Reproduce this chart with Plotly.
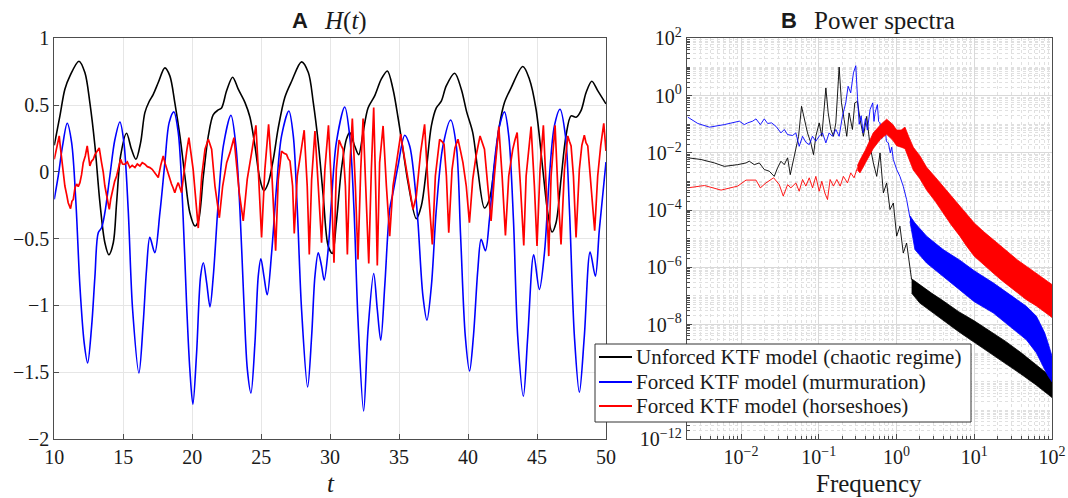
import numpy as np
import plotly.graph_objects as go

# ---------------- Panel A: H(t) time series ----------------
t_black = [10.0, 10.41, 10.77, 11.14, 11.79, 12.22, 12.58, 12.95, 13.31, 13.67,
           13.96, 14.28, 14.52, 14.81, 15.24, 15.6, 15.92, 16.26, 16.57, 16.89,
           17.17, 17.54, 18.02, 18.38, 18.74, 19.11, 19.47, 19.83, 20.2, 20.44,
           20.81, 21.17, 21.53, 21.89, 22.13, 22.5, 22.93, 23.34, 23.83, 24.19,
           24.55, 24.91, 25.2, 25.52, 25.88, 26.24, 26.72, 27.21, 27.93, 28.42,
           28.78, 29.14, 29.5, 29.86, 30.16, 30.45, 30.82, 31.18, 31.42, 31.78,
           32.07, 32.39, 32.75, 33.23, 33.71, 34.15, 34.56, 34.92, 35.28, 35.65,
           36.25, 36.61, 36.98, 37.34, 37.7, 38.06, 38.42, 39.03, 39.51, 39.9,
           40.34, 40.7, 41.19, 41.55, 41.91, 42.27, 42.64, 43.12, 43.97, 44.45,
           44.93, 45.42, 45.78, 46.09, 46.38, 46.74, 47.1, 47.47, 47.83, 48.19,
           48.56, 48.97, 49.4, 50.0]
h_black = [0.20, 0.42, 0.62, 0.72, 0.83, 0.745, 0.52, 0.195, -0.23, -0.53,
           -0.62, -0.53, -0.23, 0.12, 0.29, 0.17, 0.095, 0.22, 0.445, 0.53,
           0.58, 0.67, 0.78, 0.72, 0.52, 0.27, -0.03, -0.305, -0.405, -0.37,
           -0.03, 0.27, 0.43, 0.465, 0.48, 0.61, 0.71, 0.62, 0.52, 0.41,
           0.195, -0.055, -0.14, -0.08, 0.095, 0.33, 0.56, 0.68, 0.825, 0.745,
           0.52, 0.22, -0.18, -0.555, -0.61, -0.38, 0.02, 0.245, 0.295, 0.195,
           0.13, 0.295, 0.48, 0.57, 0.695, 0.757, 0.62, 0.41, 0.17, -0.08,
           -0.35, -0.255, 0.02, 0.345, 0.48, 0.53, 0.645, 0.74, 0.62, 0.45,
           0.295, 0.02, -0.27, -0.205, 0.045, 0.345, 0.52, 0.63, 0.79, 0.695,
           0.47, 0.02, -0.305, -0.45, -0.38, -0.055, 0.27, 0.42, 0.41, 0.46,
           0.595, 0.68, 0.61, 0.51]

t_blue = [10.0, 10.29, 10.6, 10.94, 11.26, 11.57, 11.86, 12.17, 12.42, 12.71,
          12.95, 13.19, 13.43, 13.67, 14.03, 14.4, 14.76, 15.05, 15.36, 15.68,
          16.14, 16.45, 16.69, 16.93, 17.29, 17.66, 18.02, 18.33, 18.67, 18.99,
          19.3, 19.59, 19.83, 20.05, 20.32, 20.61, 20.81, 21.05, 21.29, 21.53,
          21.89, 22.26, 22.81, 23.17, 23.46, 23.75, 24.0, 24.26, 24.55, 24.79,
          24.98, 25.2, 25.44, 25.76, 26.12, 26.48, 27.01, 27.33, 27.62, 27.93,
          28.37, 28.66, 28.9, 29.14, 29.38, 29.57, 29.86, 30.09, 30.45, 31.06,
          31.42, 31.73, 32.02, 32.43, 32.75, 33.16, 33.42, 33.67, 33.96, 34.32,
          34.56, 34.92, 35.41, 35.77, 36.08, 36.37, 36.73, 37.02, 37.34, 37.7,
          38.18, 38.74, 39.15, 39.46, 39.8, 40.11, 40.39, 40.71, 40.95, 41.26,
          41.55, 41.91, 42.28, 42.64, 42.95, 43.29, 43.6, 44.01, 44.33, 44.76,
          45.17, 45.54, 45.9, 46.26, 46.67, 47.06, 47.35, 47.71, 48.07, 48.43,
          48.85, 49.23, 49.52, 50.0]
h_blue = [-0.205, -0.03, 0.195, 0.365, 0.22, -0.23, -0.855, -1.28, -1.43, -1.155,
          -0.78, -0.455, -0.418, -0.305, -0.03, 0.245, 0.375, 0.22, -0.28, -1.03,
          -1.505, -1.13, -0.73, -0.49, -0.605, -0.305, 0.07, 0.37, 0.45, 0.295,
          -0.23, -0.98, -1.48, -1.74, -1.355, -0.78, -0.68, -0.83, -1.01, -0.78,
          -0.23, 0.195, 0.425, 0.195, -0.28, -0.98, -1.48, -1.655, -1.28, -0.78,
          -0.65, -0.78, -0.92, -0.605, -0.105, 0.27, 0.457, 0.27, -0.28, -1.03,
          -1.61, -1.23, -0.78, -0.605, -0.705, -0.81, -0.58, -0.23, 0.22, 0.487,
          0.27, -0.28, -1.105, -1.79, -1.18, -0.76, -1.03, -1.26, -0.855, -0.28,
          -0.155, 0.045, 0.275, 0.195, -0.03, -0.38, -0.93, -1.11, -0.855, -0.28,
          0.195, 0.39, 0.195, -0.48, -1.23, -1.49, -1.23, -0.73, -0.505, -0.59,
          -0.355, 0.07, 0.345, 0.45, 0.27, -0.355, -1.23, -1.68, -1.23, -0.62,
          -0.88, -0.605, -0.03, 0.345, 0.47, 0.27, -0.28, -1.23, -1.65, -1.23,
          -0.6, -0.78, -0.43, 0.075]

t_red = [10.0, 10.12, 10.22, 10.36, 10.45, 10.53, 10.65, 10.77, 10.9, 11.01,
         11.18, 11.28, 11.38, 11.5, 11.62, 11.74, 11.86, 11.98, 12.1, 12.25,
         12.39, 12.5, 12.58, 12.7, 12.83, 12.95, 13.1, 13.26, 13.43, 13.55,
         13.67, 13.85, 13.99, 14.1, 14.23, 14.38, 14.52, 14.66, 14.81, 14.95,
         15.12, 15.3, 15.48, 15.65, 15.85, 16.02, 16.21, 16.38, 16.57, 16.75,
         16.93, 17.1, 17.29, 17.42, 17.54, 17.72, 17.9, 18.05, 18.19, 18.35,
         18.5, 18.62, 18.74, 18.87, 18.99, 19.12, 19.23, 19.35, 19.47, 19.62,
         19.76, 20.07, 20.44, 20.69, 20.93, 21.17, 21.41, 21.65, 21.97, 22.21,
         22.5, 22.74, 23.03, 23.22, 23.41, 23.7, 23.99, 24.31, 24.62, 24.79,
         25.03, 25.27, 25.54, 25.76, 26.05, 26.24, 26.48, 26.66, 26.84, 26.96,
         27.09, 27.28, 27.4, 27.62, 28.12, 28.34, 28.49, 28.66, 28.9, 29.14,
         29.38, 29.62, 29.88, 30.09, 30.28, 30.45, 30.65, 30.8, 30.94, 31.11,
         31.25, 31.42, 31.61, 31.83, 32.02, 32.22, 32.39, 32.58, 32.8, 32.99,
         33.16, 33.3, 33.42, 33.59, 33.84, 34.08, 34.32, 34.56, 34.8, 35.12,
         35.24, 35.36, 35.5, 35.65, 35.82, 36.01, 36.25, 36.56, 36.85, 37.1,
         37.41, 37.63, 37.94, 38.1, 38.26, 38.43, 38.6, 38.84, 39.05, 39.27,
         39.45, 39.63, 39.87, 40.1, 40.34, 40.58, 40.87, 41.03, 41.19, 41.43,
         41.67, 41.91, 42.23, 42.47, 42.71, 42.95, 43.24, 43.4, 43.56, 43.8,
         44.04, 44.21, 44.57, 44.81, 45.0, 45.22, 45.46, 45.66, 45.85, 46.02,
         46.31, 46.5, 46.74, 46.99, 47.23, 47.35, 47.47, 47.64, 47.83, 48.07,
         48.25, 48.43, 48.55, 48.68, 48.92, 49.18, 49.4, 49.62, 49.84, 50.0]
h_red = [0.095, 0.16, 0.195, 0.27, 0.18, 0.095, 0.02, -0.105, -0.17, -0.23,
         -0.275, -0.22, -0.205, -0.12, -0.09, -0.11, -0.08, -0.02, 0.07, 0.12,
         0.195, 0.1, 0.045, 0.08, 0.095, 0.13, 0.15, 0.18, 0.07, 0.0,
         -0.105, -0.2, -0.28, -0.2, -0.13, -0.07, -0.03, 0.03, 0.095, 0.06,
         0.058, 0.075, 0.033, 0.05, 0.033, 0.06, 0.045, 0.07, 0.058, 0.04,
         0.033, 0.02, -0.005, -0.02, -0.042, 0.05, 0.12, 0.06, 0.008, -0.04,
         -0.09, -0.12, -0.155, -0.11, -0.08, -0.12, -0.155, -0.05, 0.07, 0.17,
         0.257, 0.02, -0.42, -0.03, 0.17, 0.245, 0.17, -0.105, -0.343, -0.105,
         0.07, 0.145, 0.257, 0.07, -0.155, -0.367, -0.055, 0.145, 0.35, 0.02,
         -0.49, 0.02, 0.357, 0.02, -0.59, -0.055, 0.157, 0.14, 0.132, 0.1,
         0.082, -0.105, -0.46, -0.03, 0.313, -0.105, -0.617, -0.055, 0.307, -0.105,
         -0.53, 0.02, 0.35, -0.105, -0.68, 0.02, 0.24, 0.2, 0.17, -0.105,
         -0.617, 0.02, 0.4, -0.105, -0.655, 0.02, 0.4, -0.105, -0.685, 0.02,
         0.482, -0.105, -0.7, 0.07, 0.345, -0.105, -0.48, -0.105, 0.07, 0.283,
         0.2, 0.12, 0.04, -0.055, -0.17, -0.28, -0.18, 0.145, 0.357, -0.105,
         -0.542, -0.03, 0.245, 0.23, 0.207, -0.03, -0.455, 0.02, 0.18, 0.245,
         0.16, 0.07, -0.105, -0.38, -0.055, 0.12, 0.27, 0.22, 0.17, -0.105,
         -0.367, -0.03, 0.34, -0.03, -0.475, -0.03, 0.17, 0.24, 0.295, -0.105,
         -0.55, -0.03, 0.34, -0.105, -0.555, 0.02, 0.35, -0.105, -0.63, -0.03,
         0.35, -0.105, -0.542, 0.02, 0.27, 0.23, 0.195, -0.03, -0.49, 0.02,
         0.2, 0.275, 0.22, 0.195, -0.105, -0.44, -0.03, 0.2, 0.365, 0.157]

# ---------------- Panel B: power spectra (log10 values) ----------------
# Unforced KTF model: low-frequency part and the broadband tail (upper / lower envelope)
black_logf = [-2.685, -2.514, -2.343, -2.215, -2.043, -1.936, -1.894, -1.830, -1.765, -1.701,
              -1.637, -1.573, -1.530, -1.487, -1.444, -1.401, -1.367, -1.325, -1.295, -1.260,
              -1.222, -1.188, -1.145, -1.102, -1.068, -1.038, -0.995, -0.961, -0.931, -0.909,
              -0.879, -0.845, -0.811, -0.781, -0.738, -0.708, -0.674, -0.640, -0.610, -0.567,
              -0.537, -0.503, -0.469, -0.426, -0.383, -0.340, -0.298, -0.255, -0.212, -0.169,
              -0.127, -0.084, -0.041, 0.002, 0.044, 0.087, 0.130, 0.173, 0.194]
black_logp = [-2.17, -2.23, -2.35, -2.47, -2.41, -2.35, -2.29, -2.41, -2.35, -2.58,
              -2.64, -2.82, -2.52, -2.29, -2.41, -2.17, -2.76, -2.23, -1.88, -1.42,
              -0.37, -0.83, -1.30, -1.65, -2.06, -1.42, -0.95, -1.42, -0.37, 0.27,
              -0.60, -1.18, -1.42, -0.95, 1.00, -0.25, -0.83, -1.42, -0.60, -1.18,
              -0.25, -0.20, -0.83, -1.42, -0.72, -1.77, -2.35, -2.82, -2.00, -3.40,
              -3.05, -3.98, -3.75, -4.91, -4.56, -5.50, -5.15, -5.96, -6.43]
black_tail_logf = [0.194, 0.300, 0.450, 0.600, 0.800, 1.000, 1.200, 1.400, 1.600, 1.800, 2.000]
black_tail_hi = [-6.40, -6.62, -6.90, -7.17, -7.55, -7.87, -8.22, -8.58, -8.98, -9.40, -9.85]
black_tail_lo = [-6.90, -7.25, -7.55, -7.85, -8.25, -8.62, -8.98, -9.35, -9.73, -10.12, -10.55]

# Forced KTF model (murmuration)
blue_logf = [-2.685, -2.557, -2.407, -2.215, -2.022, -1.958, -1.915, -1.851, -1.808, -1.752,
             -1.701, -1.658, -1.607, -1.551, -1.487, -1.444, -1.401, -1.337, -1.295, -1.252,
             -1.209, -1.166, -1.123, -1.081, -1.038, -0.995, -0.952, -0.909, -0.867, -0.824,
             -0.781, -0.738, -0.696, -0.653, -0.623, -0.589, -0.554, -0.524, -0.503, -0.480,
             -0.455, -0.430, -0.400, -0.375, -0.340, -0.306, -0.290, -0.276, -0.246, -0.230,
             -0.212, -0.190, -0.178, -0.148, -0.130, -0.105, -0.080, -0.062, -0.041, -0.020,
             0.002, 0.044, 0.087, 0.130, 0.173]
blue_logp = [-0.75, -0.97, -1.10, -1.01, -0.89, -1.01, -0.95, -0.89, -0.81, -1.01,
             -0.81, -0.97, -0.95, -1.07, -1.30, -1.18, -1.36, -1.39, -1.30, -1.77,
             -1.42, -1.63, -1.71, -1.42, -1.59, -1.42, -1.30, -1.65, -1.30, -1.42,
             -1.18, -1.42, -0.72, -0.25, 0.33, 0.10, 0.80, 1.05, -0.02, -1.00,
             -0.70, -1.30, -0.80, -1.20, -0.48, -0.25, -0.90, -0.60, -0.31, -0.90,
             -0.95, -1.50, -1.20, -1.07, -1.60, -1.65, -2.00, -1.80, -2.23, -2.40,
             -2.58, -2.82, -3.17, -3.63, -4.27]
blue_tail_logf = [0.173, 0.237, 0.387, 0.600, 0.815, 1.000, 1.243, 1.457, 1.670, 1.800, 1.906, 1.950, 2.000]
blue_tail_hi = [-4.20, -4.45, -4.91, -5.38, -5.75, -6.12, -6.54, -6.95, -7.36, -7.71, -8.29, -8.65, -9.10]
blue_tail_lo = [-4.40, -5.38, -5.85, -6.31, -6.80, -7.20, -7.59, -8.06, -8.53, -8.99, -9.57, -9.80, -10.00]

# Forced KTF model (horseshoes)
red_logf = [-2.685, -2.471, -2.257, -2.043, -1.936, -1.808, -1.752, -1.680, -1.581, -1.508,
            -1.457, -1.401, -1.359, -1.295, -1.252, -1.209, -1.166, -1.123, -1.081, -1.038,
            -0.995, -0.961, -0.922, -0.888, -0.854, -0.811, -0.768, -0.725, -0.683, -0.631,
            -0.589, -0.546, -0.503]
red_logp = [-3.22, -3.14, -3.30, -3.16, -2.95, -2.95, -3.22, -3.05, -2.87, -3.11,
            -3.51, -3.11, -3.22, -3.05, -3.34, -2.93, -3.16, -2.87, -3.22, -2.82,
            -3.34, -2.99, -3.40, -3.63, -2.93, -3.16, -2.93, -3.16, -2.82, -3.05,
            -2.70, -2.87, -2.52]
red_tail_logf = [-0.503, -0.470, -0.400, -0.300, -0.200, -0.127, -0.050, 0.002, 0.060, 0.109,
                 0.160, 0.216, 0.300, 0.387, 0.500, 0.600, 0.700, 0.815, 0.900, 1.000,
                 1.120, 1.243, 1.350, 1.457, 1.560, 1.670, 1.800, 1.900, 2.000]
red_tail_hi = [-2.45, -2.25, -1.90, -1.30, -1.00, -0.82, -1.00, -1.20, -1.20, -1.10,
               -1.45, -1.80, -2.10, -2.50, -2.85, -3.17, -3.50, -3.86, -4.15, -4.45,
               -4.75, -5.03, -5.28, -5.50, -5.75, -5.96, -6.20, -6.40, -6.60]
red_tail_lo = [-2.60, -2.70, -2.35, -1.85, -1.50, -1.35, -1.55, -1.75, -1.80, -1.85,
               -2.20, -2.60, -2.90, -3.30, -3.70, -4.10, -4.50, -4.91, -5.25, -5.61,
               -5.90, -6.20, -6.45, -6.66, -6.90, -7.13, -7.35, -7.55, -7.75]

legend_names = ["Unforced KTF model (chaotic regime)",
                "Forced KTF model (murmuration)",
                "Forced KTF model (horseshoes)"]
colors = ["#000000", "#0000ff", "#ff0000"]

x_ticks_a = [10, 15, 20, 25, 30, 35, 40, 45, 50]
y_ticks_a = [-2, -1.5, -1, -0.5, 0, 0.5, 1]
x_decades_b = [-2, -1, 0, 1, 2]
# the 1e-10 label sits underneath the legend box, so it is not listed
y_decades_b = [-12, -8, -6, -4, -2, 0, 2]

SERIF = "Liberation Serif"
SANS = "Liberation Sans"
AXIS_COLOR = "#4d4d4d"
TEXT_COLOR = "#1a1a1a"
W, H = 1068, 498

def px(x):
    return x / W

def py(y):
    return 1 - y / H

fig = go.Figure()

# Panel A lines
for t, h, c in [(t_black, h_black, colors[0]), (t_blue, h_blue, colors[1])]:
    fig.add_trace(go.Scatter(x=t, y=h, mode="lines", xaxis="x", yaxis="y",
                             line=dict(color=c, width=1.6, shape="spline", smoothing=0.9),
                             showlegend=False, hoverinfo="skip"))
fig.add_trace(go.Scatter(x=t_red, y=h_red, mode="lines", xaxis="x", yaxis="y",
                         line=dict(color=colors[2], width=1.7),
                         showlegend=False, hoverinfo="skip"))

# Panel B spectra
def pw(v):
    return np.power(10.0, np.asarray(v, dtype=float))

spectra = [
    (black_logf, black_logp, black_tail_logf, black_tail_hi, black_tail_lo),
    (blue_logf, blue_logp, blue_tail_logf, blue_tail_hi, blue_tail_lo),
    (red_logf, red_logp, red_tail_logf, red_tail_hi, red_tail_lo),
]
for (lf, lp, tf, thi, tlo), c, name in zip(spectra, colors, legend_names):
    fig.add_trace(go.Scatter(x=pw(lf), y=pw(lp), mode="lines", xaxis="x2", yaxis="y2",
                             line=dict(color=c, width=0.9), name=name,
                             showlegend=False, hoverinfo="skip"))
    band_x = np.concatenate([pw(tf), pw(tf)[::-1]])
    band_y = np.concatenate([pw(thi), pw(tlo)[::-1]])
    fig.add_trace(go.Scatter(x=band_x, y=band_y, mode="lines", xaxis="x2", yaxis="y2",
                             fill="toself", fillcolor=c, line=dict(color=c, width=0.8),
                             showlegend=False, hoverinfo="skip"))

tick_font = dict(family=SERIF, size=20, color=TEXT_COLOR)
common = dict(showline=True, linecolor=AXIS_COLOR, linewidth=1, mirror=True,
              ticks="inside", ticklen=5, tickcolor=AXIS_COLOR, zeroline=False,
              tickfont=tick_font)

def sup(k):
    return "10<sup>%s</sup>" % (str(k).replace("-", "\u2212"))

minor_grid = dict(dtick="D1", showgrid=True, gridcolor="#e0e0e0", griddash="dot",
                  ticks="inside", ticklen=3, tickcolor=AXIS_COLOR)

fig.update_layout(
    width=W, height=H,
    autosize=False,
    margin=dict(l=0, r=0, t=0, b=0, autoexpand=False),
    paper_bgcolor="white", plot_bgcolor="white",
    showlegend=False,
    xaxis=dict(domain=[0.0508, 0.5674], range=[10, 50], tickvals=x_ticks_a,
               showgrid=True, gridcolor="#e6e6e6", anchor="y", **common),
    yaxis=dict(domain=[0.1185, 0.9227], range=[-2, 1], tickvals=y_ticks_a,
               showgrid=True, gridcolor="#e6e6e6", anchor="x", **common),
    xaxis2=dict(domain=[0.643, 0.985], type="log", range=[np.log10(0.002), 2],
                tickvals=[10.0 ** k for k in x_decades_b],
                ticktext=[sup(k) for k in x_decades_b],
                showgrid=True, gridcolor="#d9d9d9", anchor="y2",
                minor=minor_grid, **common),
    yaxis2=dict(domain=[0.1185, 0.9227], type="log", range=[-12, 2],
                tickvals=[10.0 ** k for k in y_decades_b],
                ticktext=[sup(k) for k in y_decades_b],
                showgrid=True, gridcolor="#d9d9d9", anchor="x2",
                minor=minor_grid, **common),
)

# Legend box shared by both panels
leg_x0, leg_x1, leg_y0, leg_y1 = 595, 971, 344, 422
leg_rows = [357, 382, 406]
fig.add_shape(type="rect", xref="paper", yref="paper",
              x0=px(leg_x0), x1=px(leg_x1), y0=py(leg_y1), y1=py(leg_y0),
              fillcolor="white", line=dict(color="#333333", width=1), layer="above")
for yr, c, name in zip(leg_rows, colors, legend_names):
    fig.add_shape(type="line", xref="paper", yref="paper",
                  x0=px(599), x1=px(632), y0=py(yr), y1=py(yr),
                  line=dict(color=c, width=2), layer="above")
    fig.add_annotation(xref="paper", yref="paper", x=px(634), y=py(yr),
                       text=name, showarrow=False, xanchor="left", yanchor="middle",
                       font=dict(family=SERIF, size=21, color=TEXT_COLOR))

annotations = [
    dict(text="<b>A</b>", x=0.281, y=0.958, font=dict(family=SANS, size=22, color=TEXT_COLOR)),
    dict(text="<i>H</i>(<i>t</i>)", x=0.3235, y=0.958, font=dict(family=SERIF, size=25, color=TEXT_COLOR)),
    dict(text="<b>B</b>", x=0.7388, y=0.958, font=dict(family=SANS, size=22, color=TEXT_COLOR)),
    dict(text="Power spectra", x=0.828, y=0.958, font=dict(family=SERIF, size=25, color=TEXT_COLOR)),
    dict(text="<i>t</i>", x=0.3096, y=0.03, font=dict(family=SERIF, size=25, color=TEXT_COLOR)),
    dict(text="Frequency", x=0.8135, y=0.03, font=dict(family=SERIF, size=25, color=TEXT_COLOR)),
]
for a in annotations:
    fig.add_annotation(xref="paper", yref="paper", showarrow=False,
                       xanchor="center", yanchor="middle", **a)

fig.write_html("out.html")
